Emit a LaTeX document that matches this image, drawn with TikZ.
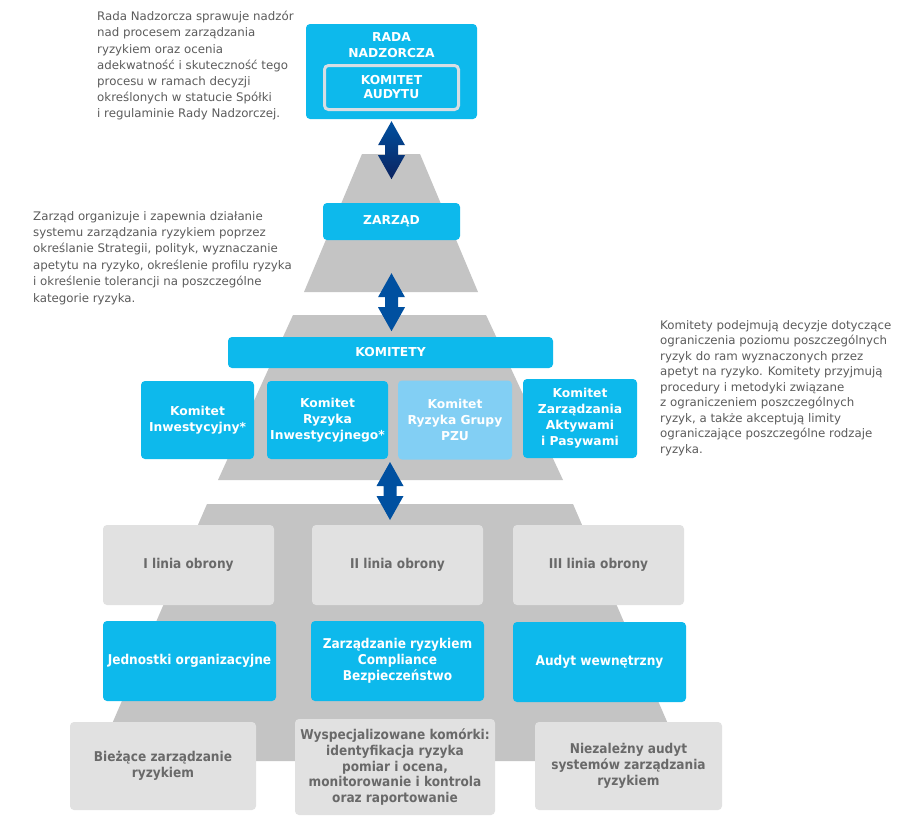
\documentclass[tikz,border=0pt]{standalone}
\usepackage{fontspec}
\setmainfont{DejaVu Sans Condensed}
\newfontfamily\widesans{DejaVu Sans}
\definecolor{pzucyan}{RGB}{13,185,236}
\definecolor{pzupale}{RGB}{130,207,244}
\definecolor{pyrgrey}{RGB}{196,196,196}
\definecolor{boxgrey}{RGB}{225,225,225}
\definecolor{txtgrey}{RGB}{92,92,92}
\definecolor{lblgrey}{RGB}{105,105,105}
\definecolor{arrblue}{RGB}{0,80,160}
\definecolor{arrnavy}{RGB}{12,35,95}
\definecolor{rimgrey}{RGB}{214,222,228}
\newcommand\boxf{\widesans\bfseries\fontsize{12.3}{16}\selectfont}
\newcommand\rowf{\bfseries\fontsize{13.5}{15.8}\selectfont}
\def\DA#1#2{\path[#2] (#1) -- ++(13.5,24) -- ++(-7,0) -- ++(0,10) -- ++(7,0) -- ++(-13.5,24) -- ++(-13.5,-24) -- ++(7,0) -- ++(0,-10) -- ++(-7,0) -- cycle;}

\begin{document}
\begin{tikzpicture}[x=1pt,y=-1pt,
  cyanbox/.style={fill=pzucyan,rounded corners=4pt,text=white,align=center,inner sep=0pt,font=\boxf},
  greybox/.style={fill=boxgrey,rounded corners=4pt,text=lblgrey,align=center,inner sep=0pt,font=\rowf},
  desc/.style={anchor=north west,align=left,inner sep=0pt,text=txtgrey}]
\fill[white] (0,0) rectangle (907,817);
\useasboundingbox (0,0) rectangle (907,817);
% pyramid
\fill[pyrgrey] (362,154) -- (420,154) -- (478,292) -- (304,292) -- cycle;
\fill[pyrgrey] (293,315) -- (486,315) -- (563,480) -- (218,480) -- cycle;
\fill[pyrgrey] (207,504) -- (573,504) -- (684,761) -- (96,761) -- cycle;

\node[desc,font=\widesans\fontsize{11.8}{16.2}\selectfont] (t1) at (97,11) {Rada Nadzorcza sprawuje nadzór\\nad procesem zarządzania\\ryzykiem oraz ocenia\\adekwatność i skuteczność tego\\procesu w ramach decyzji\\określonych w statucie Spółki\\i regulaminie Rady Nadzorczej.};
\node[desc,font=\widesans\fontsize{11.8}{16.4}\selectfont] (t2) at (33,211) {Zarząd organizuje i zapewnia działanie\\systemu zarządzania ryzykiem poprzez\\określanie Strategii, polityk, wyznaczanie\\apetytu na ryzyko, określenie profilu ryzyka\\i określenie tolerancji na poszczególne\\kategorie ryzyka.};
\node[desc,font=\widesans\fontsize{11.8}{15.5}\selectfont] (t3) at (660,320) {Komitety podejmują decyzje dotyczące\\ograniczenia poziomu poszczególnych\\ryzyk do ram wyznaczonych przez\\apetyt na ryzyko. Komitety przyjmują\\procedury i metodyki związane\\z ograniczeniem poszczególnych\\ryzyk, a także akceptują limity\\ograniczające poszczególne rodzaje\\ryzyka.};

\node[cyanbox,minimum width=171,minimum height=95] (rada) at (391.5,71.5) {};
\node[cyanbox,fill=none] (radat) at (391.5,45) {RADA\\NADZORCZA};
\node[cyanbox,draw=rimgrey,line width=3pt,minimum width=134,minimum height=44,font=\widesans\bfseries\fontsize{12.3}{14}\selectfont] (audyt) at (391.5,87.5) {KOMITET\\AUDYTU};
\node[cyanbox,minimum width=137,minimum height=37] (zarzad) at (391.5,221.5) {ZARZĄD};
\node[cyanbox,minimum width=325,minimum height=31] (komitety) at (390.5,352.5) {KOMITETY};
\node[cyanbox,minimum width=113,minimum height=78] (kinw) at (197.5,420) {Komitet\\Inwestycyjny*};
\node[cyanbox,minimum width=121,minimum height=78] (kri) at (327.5,420) {Komitet\\Ryzyka\\Inwestycyjnego*};
\node[cyanbox,fill=pzupale,minimum width=114,minimum height=79] (krg) at (455,420) {Komitet\\Ryzyka Grupy\\PZU};
\node[cyanbox,minimum width=114,minimum height=79] (kzap) at (580,418.5) {Komitet\\Zarządzania\\Aktywami\\i Pasywami};

\foreach \n/\x/\t in {l1/188.5/I linia obrony,l2/397.5/II linia obrony,l3/598.5/III linia obrony}
  \node[greybox,minimum width=171,minimum height=80] (\n) at (\x,565) {\t};
\node[cyanbox,font=\rowf,minimum width=173,minimum height=80] (b1) at (189.5,661) {Jednostki organizacyjne};
\node[cyanbox,font=\rowf,minimum width=173,minimum height=80] (b2) at (397.5,661) {Zarządzanie ryzykiem\\Compliance\\Bezpieczeństwo};
\node[cyanbox,font=\rowf,minimum width=173,minimum height=80] (b3) at (599.5,662) {Audyt wewnętrzny};
\node[greybox,minimum width=186,minimum height=88] (g1) at (163,766) {Bieżące zarządzanie\\ryzykiem};
\node[greybox,minimum width=200,minimum height=96] (g2) at (395,767) {Wyspecjalizowane komórki:\\identyfikacja ryzyka\\pomiar i ocena,\\monitorowanie i kontrola\\oraz raportowanie};
\node[greybox,minimum width=187,minimum height=88] (g3) at (628.5,766) {Niezależny audyt\\systemów zarządzania\\ryzykiem};

% arrows
\coordinate (a1) at ([yshift=-2pt]rada.south);
\coordinate (a2) at ([yshift=-33pt]zarzad.south);
\coordinate (a3) at (390,462);
\DA{a1}{top color=arrblue,bottom color=arrnavy}
\DA{a2}{fill=arrblue}
\DA{a3}{fill=arrblue}
\end{tikzpicture}
\end{document}
